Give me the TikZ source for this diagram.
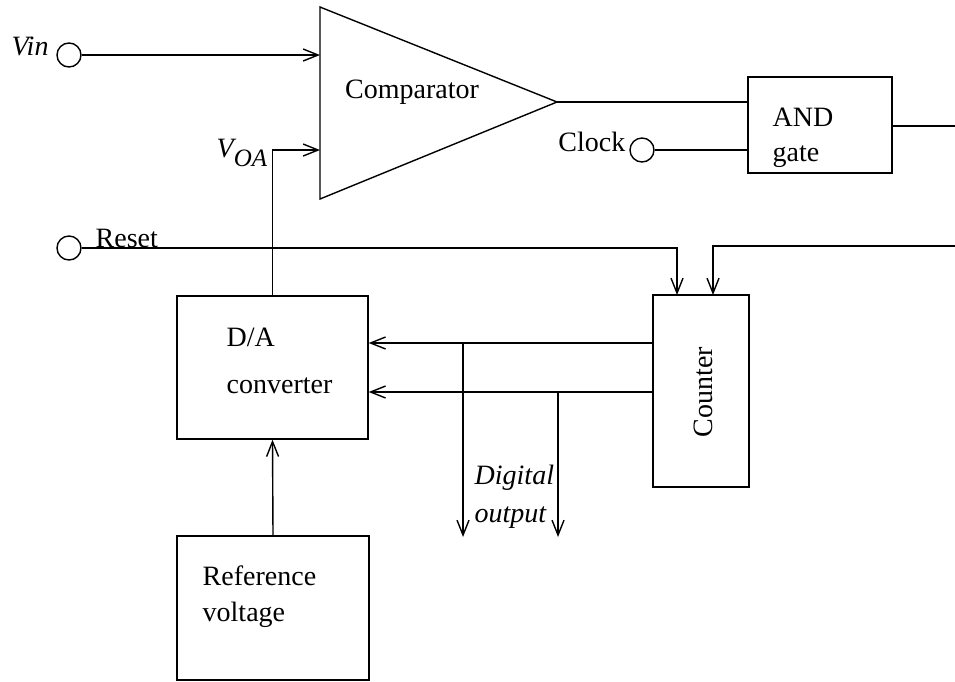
\documentclass[tikz,border=0pt]{standalone}
\usepackage{fontspec}
\setmainfont{Liberation Serif}
\usetikzlibrary{arrows.meta}
\begin{document}
\begin{tikzpicture}[x=1pt,y=-1pt,line width=1.4pt,
  every node/.style={font=\fontsize{28}{32}\selectfont,inner sep=0pt},
  box/.style={draw,rectangle,line width=1.4pt},
  term/.style={draw,circle,minimum size=24pt,line width=1.4pt},
  arr/.style={-{Straight Barb[length=15pt,width=12pt,line width=1.4pt]}},
  lbl/.style={anchor=base west}]
\useasboundingbox (0,0) rectangle (955,681);
% blocks
\draw (320,7) -- (557,102) -- (320,199) -- cycle;
\coordinate (cmpin1) at (320,55);
\coordinate (cmpin2) at (320,150);
\coordinate (cmpout) at (557,102);
\node[anchor=base] (cmpl) at (412,98) {Comparator};
\node[box,minimum width=144pt,minimum height=96pt] (and) at (820,125) {};
\node[box,minimum width=96pt,minimum height=192pt] (cnt) at (701,391) {};
\node[box,minimum width=191pt,minimum height=143pt] (da) at (272.5,367.5) {};
\node[box,minimum width=192pt,minimum height=144pt] (ref) at (273,608) {};
\node[term] (vin) at (69,55) {};
\node[term] (clk) at (642,150) {};
\node[term] (rst) at (69,248) {};
% texts
\node[lbl] (andl) at (772,126) {AND};
\node[lbl] (gatel) at (772,161) {gate};
\node[rotate=90] (cntl) at (703,392) {Counter};
\node[lbl] (dal) at (226,346) {D/A};
\node[lbl] (convl) at (226,393) {converter};
\node[lbl] (refl) at (202,585) {Reference};
\node[lbl] (voltl) at (202,621) {voltage};
\node[anchor=base east] (clkl) at (626,151) {Clock};
\node[lbl] (rstl) at (95,247) {Reset};
\node[anchor=base west] (vinl) at (11,55) {\itshape Vin};
\node[anchor=base west] (voal) at (216,157) {\itshape V\raisebox{-9pt}{\fontsize{25}{25}\selectfont OA}};
\node[lbl] (digl) at (474,484) {\itshape Digital};
\node[lbl] (outl) at (474,522) {\itshape output};
% coordinates
\coordinate (andout) at (955,126);
\coordinate (fb) at (955,246);
\coordinate (cntin1) at (677,295);
\coordinate (cntin2) at (713,295);
\coordinate (j1) at (463,343);
\coordinate (j2) at (558,392);
\coordinate (out1) at (463,537);
\coordinate (out2) at (558,537);
% connectors
\draw[arr] (vin) -- (cmpin1);
\draw[arr] (da.north) |- (cmpin2);
\draw (cmpout) -- (and.west |- cmpout);
\draw (clk) -- (and.west |- clk);
\draw (and.east |- andout) -- (andout);
\draw[arr] (rst) -| (cntin1);
\draw[arr] (fb) -| (cntin2);
\draw[arr] (cnt.west |- j1) -- (da.east |- j1);
\draw[arr] (cnt.west |- j2) -- (da.east |- j2);
\draw[arr] (j1) -- (out1);
\draw[arr] (j2) -- (out2);
\draw[arr] (ref.north) -- (da.south);
\end{tikzpicture}
\end{document}
